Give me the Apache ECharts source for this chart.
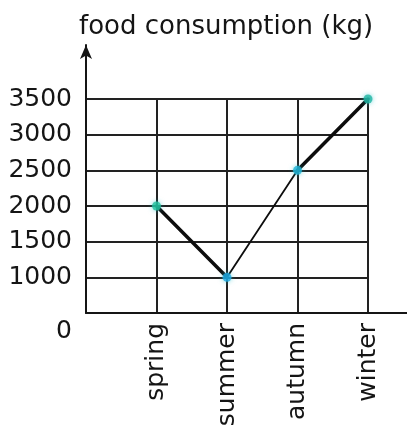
<!DOCTYPE html>
<html>
<head>
<meta charset="utf-8">
<script src="https://cdn.jsdelivr.net/npm/echarts@6/dist/echarts.min.js"></script>
<style>
  html, body { margin: 0; padding: 0; background: #ffffff; }
  #chart { width: 407px; height: 425px; }
</style>
</head>
<body>
<div id="chart"></div>
<script>
// Seasonal food consumption, kg
const seasons = ['spring', 'summer', 'autumn', 'winter'];
const consumption = [2000, 1000, 2500, 3500];
const yTicks = [500, 1000, 1500, 2000, 2500, 3000, 3500];
const axisTitle = 'food consumption (kg)';

const FONT = 'DejaVu Sans';
const INK = '#151515';
const GRID = '#222222';

// each season sits at x = 1..4 so the first one is a full step away from the y axis
const points = seasons.map((s, i) => [i + 1, consumption[i]]);
const markerColors = ['#22c29c', '#1ea9e4', '#1fb4d8', '#1fb5a3'];

const chart = echarts.init(document.getElementById('chart'), null, { renderer: 'canvas' });

const segment = (from, to, width) => ({
  type: 'line',
  xAxisIndex: 0,
  yAxisIndex: 0,
  data: points.slice(from, to + 1),
  symbol: 'none',
  silent: true,
  lineStyle: { color: '#0d0d0d', width: width, cap: 'round' },
  z: 3
});

chart.setOption({
  animation: false,
  backgroundColor: '#ffffff',
  grid: [
    { left: 86, right: 39, top: 99, bottom: 112, outerBoundsMode: 'none' },
    { left: 86, right: 0, top: 45, bottom: 112, outerBoundsMode: 'none' }
  ],
  xAxis: [
    {
      type: 'value', gridIndex: 0, min: 0, max: seasons.length, interval: 1,
      axisLine: { show: false },
      axisTick: { show: false },
      splitLine: { show: true, lineStyle: { color: GRID, width: 2 } },
      axisLabel: {
        rotate: 90,
        margin: 10,
        fontFamily: FONT,
        fontSize: 25,
        color: INK,
        formatter: v => (v >= 1 && v <= seasons.length) ? seasons[v - 1] : ''
      }
    },
    {
      type: 'value', gridIndex: 1, min: 0, max: 1,
      axisLine: { show: true, lineStyle: { color: INK, width: 2 } },
      axisTick: { show: false },
      axisLabel: { show: false },
      splitLine: { show: false }
    }
  ],
  yAxis: [
    {
      type: 'value', gridIndex: 0,
      min: yTicks[0], max: yTicks[yTicks.length - 1], interval: 500,
      axisLine: { show: false },
      axisTick: { show: false },
      splitLine: { show: true, lineStyle: { color: GRID, width: 2 } },
      axisLabel: {
        margin: 14,
        fontFamily: FONT,
        fontSize: 25,
        color: INK,
        // the axis is broken below 1000: its base is labelled as the origin
        formatter: v => v === yTicks[0] ? '{z|0}' : String(v),
        rich: { z: { fontFamily: FONT, fontSize: 25, color: INK, padding: [36, 0, 0, 0] } }
      }
    },
    {
      type: 'value', gridIndex: 1, min: 0, max: 1,
      name: axisTitle,
      nameLocation: 'end',
      nameGap: 5,
      nameTextStyle: { fontFamily: FONT, fontSize: 26, color: INK, align: 'left', padding: [0, 0, 0, -7] },
      axisLine: { show: true, symbol: ['none', 'arrow'], symbolSize: [9, 14], lineStyle: { color: INK, width: 2 } },
      axisTick: { show: false },
      axisLabel: { show: false },
      splitLine: { show: false }
    }
  ],
  series: [
    segment(0, 1, 3.5),
    segment(1, 2, 1.8),
    segment(2, 3, 3.5),
    {
      type: 'scatter',
      xAxisIndex: 0,
      yAxisIndex: 0,
      data: points,
      symbol: 'circle',
      symbolSize: 9,
      silent: true,
      itemStyle: {
        color: p => markerColors[p.dataIndex],
        shadowBlur: 5,
        shadowColor: 'rgba(30, 190, 200, 0.7)'
      },
      z: 5
    }
  ]
});
</script>
</body>
</html>
